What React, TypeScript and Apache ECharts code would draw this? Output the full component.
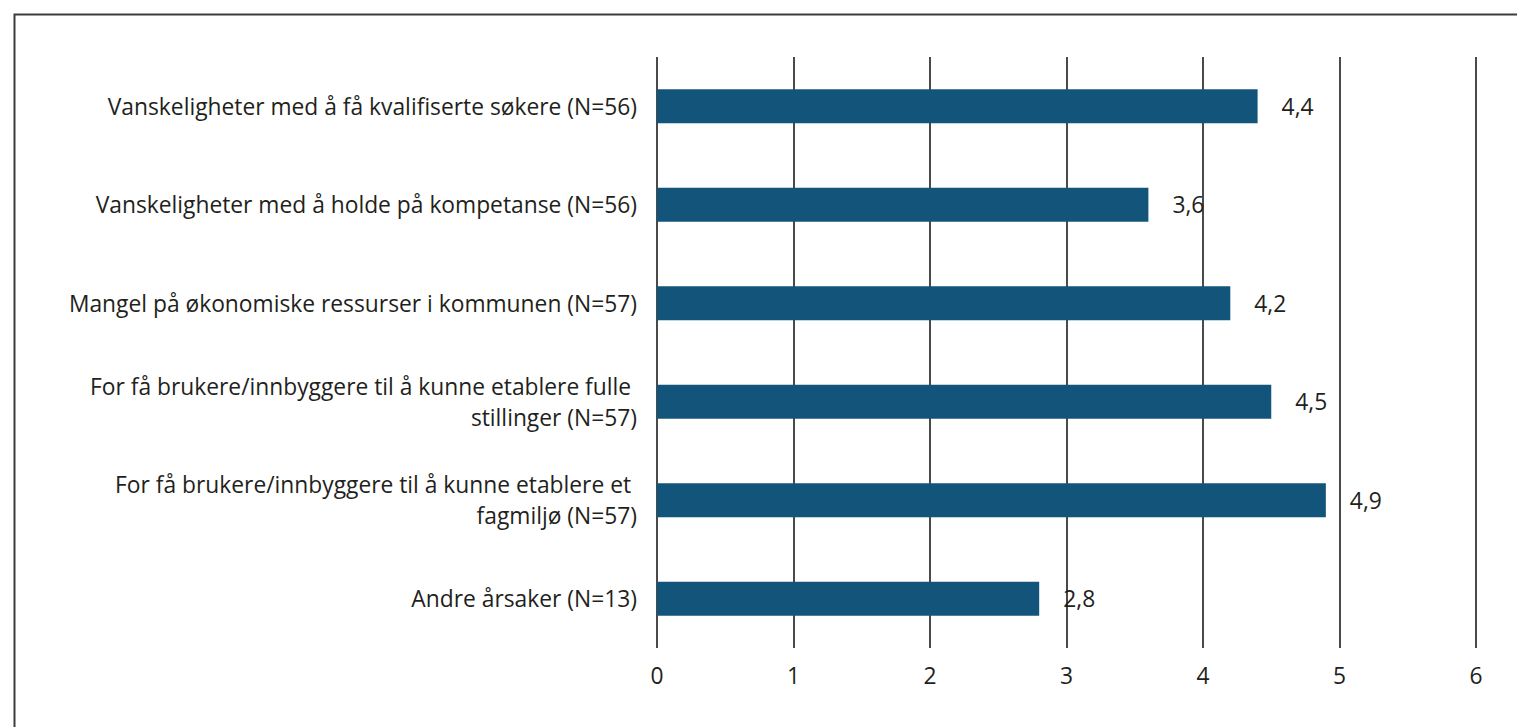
import React, { useEffect, useRef } from "react";
import * as echarts from "echarts";

const categories: string[] = [
  "Vanskeligheter med å få kvalifiserte søkere (N=56)",
  "Vanskeligheter med å holde på kompetanse (N=56)",
  "Mangel på økonomiske ressurser i kommunen (N=57)",
  "For få brukere/innbyggere til å kunne etablere fulle \nstillinger (N=57)",
  "For få brukere/innbyggere til å kunne etablere et \nfagmiljø (N=57)",
  "Andre årsaker (N=13)",
];

const values: number[] = [4.4, 3.6, 4.2, 4.5, 4.9, 2.8];

const xTicks: number[] = [0, 1, 2, 3, 4, 5, 6];

const FONT = "Open Sans";
const TEXT = "#231f20";
const FS = 22.8;

export default function App() {
  const ref = useRef<HTMLDivElement>(null);

  useEffect(() => {
    document.body.style.margin = "0";
    document.body.style.overflow = "hidden";
    if (!ref.current) return;
    const chart = echarts.init(ref.current, null, { renderer: "svg" });
    chart.setOption({
      animation: false,
      backgroundColor: "#ffffff",
      graphic: [
        {
          type: "rect",
          left: 12,
          top: 12,
          shape: { x: 0, y: 0, width: 1600, height: 800 },
          style: { fill: "none", stroke: "#3c3c3c", lineWidth: 2 },
          silent: true,
        },
      ],
      grid: { left: 657, right: 41, top: 57, bottom: 79, containLabel: false },
      xAxis: {
        type: "value",
        min: xTicks[0],
        max: xTicks[xTicks.length - 1],
        interval: 1,
        axisLine: { show: false },
        axisTick: { show: false },
        splitLine: { show: true, lineStyle: { color: "#4a4a4a", width: 2 } },
        axisLabel: {
          margin: 16,
          fontFamily: FONT,
          fontSize: FS,
          color: TEXT,
          formatter: (v: number) => String(v),
        },
      },
      yAxis: {
        type: "category",
        data: categories,
        inverse: true,
        axisLine: { show: false },
        axisTick: { show: false },
        splitLine: { show: false },
        axisLabel: {
          margin: 20,
          fontFamily: FONT,
          fontSize: FS,
          color: TEXT,
          lineHeight: 31,
          align: "right",
        },
      },
      series: [
        {
          type: "bar",
          data: values,
          barWidth: 34,
          itemStyle: { color: "#13557a" },
          label: {
            show: true,
            position: "right",
            distance: 24,
            fontFamily: FONT,
            fontSize: FS,
            color: TEXT,
            formatter: (p: any) => String(p.value).replace(".", ","),
          },
        },
      ],
    });
    return () => chart.dispose();
  }, []);

  return <div ref={ref} style={{ width: 1517, height: 727 }} />;
}
